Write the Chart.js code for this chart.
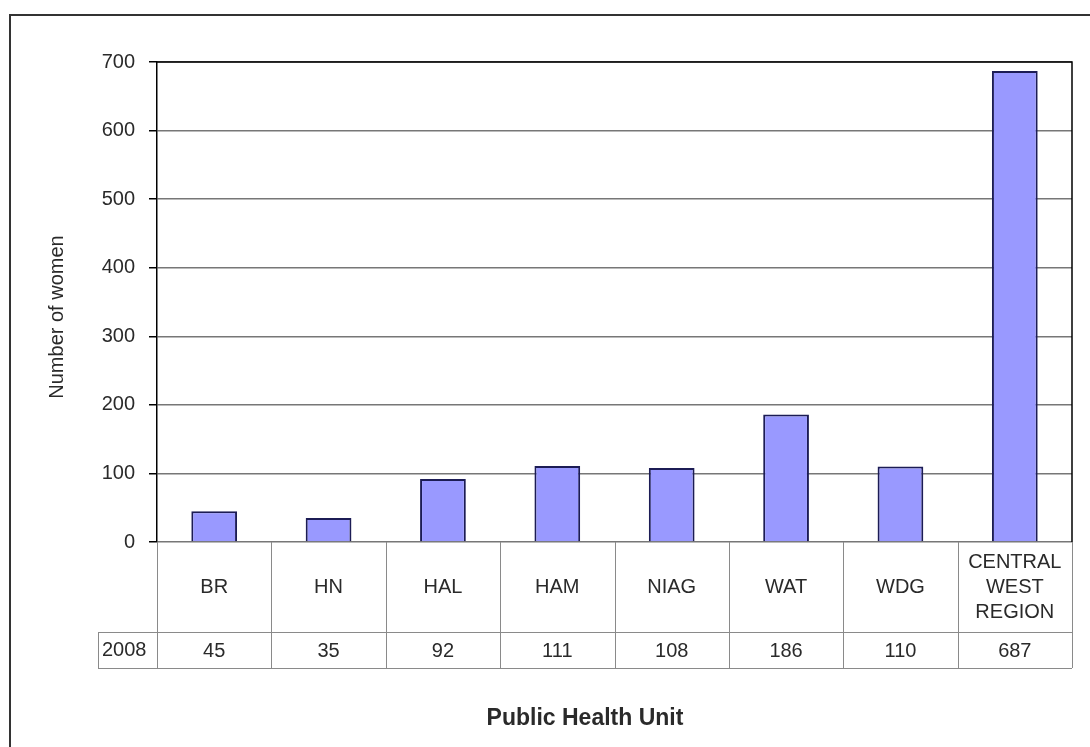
<!DOCTYPE html>
<html>
<head>
<meta charset="utf-8">
<title>Number of women by Public Health Unit, 2008</title>
<script src="https://cdn.jsdelivr.net/npm/chart.js@4/dist/chart.umd.min.js"></script>
<style>
    html, body { margin: 0; padding: 0; background: #fff; }
    #wrap { width: 1090px; height: 747px; }
</style>
</head>
<body>
<div id="wrap"><canvas id="womenChart" width="1090" height="747"></canvas></div>
<script>
// data
const units = ["BR", "HN", "HAL", "HAM", "NIAG", "WAT", "WDG", ["CENTRAL", "WEST", "REGION"]];
const seriesName = "2008";
const women2008 = [45, 35, 92, 111, 108, 186, 110, 687];
const yTicks = [0, 100, 200, 300, 400, 500, 600, 700];

const FONT = "'Liberation Sans', Arial, sans-serif";
const TEXT = "#2a2a2a";

// draws the outer frame, plot border, axis titles and the data table under the bars
const tablePlugin = {
    id: "dataTable",
    afterDraw(chart) {
        const ctx = chart.ctx;
        const area = chart.chartArea;
        const x = chart.scales.x;
        const step = x.getPixelForValue(1) - x.getPixelForValue(0);

        const rowTop = area.bottom;
        const rowMid = rowTop + 90;
        const rowBottom = rowMid + 36;
        const headLeft = area.left - 59;

        ctx.save();

        // outer chart border (only left and top show in the picture)
        ctx.strokeStyle = "#333";
        ctx.lineWidth = 2;
        ctx.beginPath();
        ctx.moveTo(10, 747);
        ctx.lineTo(10, 15);
        ctx.lineTo(1090, 15);
        ctx.stroke();

        // plot area: top and right edges
        ctx.strokeStyle = "#000";
        ctx.lineWidth = 1.5;
        ctx.beginPath();
        ctx.moveTo(area.left, area.top);
        ctx.lineTo(area.right, area.top);
        ctx.lineTo(area.right, area.bottom);
        ctx.stroke();

        // table grid
        ctx.strokeStyle = "#8a8a8a";
        ctx.lineWidth = 1;
        ctx.beginPath();
        for (let i = 0; i <= units.length; i++) {
            const px = Math.round(x.getPixelForValue(i) - step / 2) + 0.5;
            ctx.moveTo(px, rowTop);
            ctx.lineTo(px, rowBottom);
        }
        ctx.moveTo(headLeft, rowMid + 0.5);
        ctx.lineTo(area.right, rowMid + 0.5);
        ctx.moveTo(headLeft, rowBottom + 0.5);
        ctx.lineTo(area.right, rowBottom + 0.5);
        ctx.moveTo(headLeft + 0.5, rowMid);
        ctx.lineTo(headLeft + 0.5, rowBottom);
        ctx.stroke();

        // category names and values
        ctx.fillStyle = TEXT;
        ctx.font = "20px " + FONT;
        ctx.textAlign = "center";
        ctx.textBaseline = "middle";
        units.forEach((u, i) => {
            const cx = x.getPixelForValue(i);
            const lines = Array.isArray(u) ? u : [u];
            const lh = 25;
            const y0 = (rowTop + rowMid) / 2 - (lines.length - 1) * lh / 2;
            lines.forEach((t, j) => ctx.fillText(t, cx, y0 + j * lh));
            ctx.fillText(String(women2008[i]), cx, (rowMid + rowBottom) / 2 + 1);
        });
        ctx.textAlign = "left";
        ctx.fillText(seriesName, headLeft + 4, (rowMid + rowBottom) / 2);

        // x axis title
        ctx.font = "bold 23px " + FONT;
        ctx.textAlign = "center";
        ctx.fillText("Public Health Unit", (headLeft + area.right) / 2, 719);

        // y axis title
        ctx.font = "20px " + FONT;
        ctx.translate(57, 317);
        ctx.rotate(-Math.PI / 2);
        ctx.fillText("Number of women", 0, 0);

        ctx.restore();
    }
};

const ctx = document.getElementById("womenChart").getContext("2d");

new Chart(ctx, {
    type: "bar",
    data: {
        labels: units,
        datasets: [{
            label: seriesName,
            data: women2008,
            backgroundColor: "#9999ff",
            borderColor: "#1c1c55",
            borderWidth: 2,
            barPercentage: 0.4,
            categoryPercentage: 1.0
        }]
    },
    options: {
        responsive: false,
        animation: false,
        layout: {
            padding: { top: 62, right: 18, bottom: 205, left: 0 }
        },
        plugins: {
            legend: { display: false },
            tooltip: { enabled: false }
        },
        scales: {
            x: {
                ticks: { display: false },
                grid: { display: false, drawTicks: false },
                border: { display: false }
            },
            y: {
                min: yTicks[0],
                max: yTicks[yTicks.length - 1],
                afterFit(scale) { scale.width = 157; },
                afterBuildTicks(scale) { scale.ticks = yTicks.map(v => ({ value: v })); },
                ticks: {
                    color: TEXT,
                    font: { family: FONT, size: 20 },
                    padding: 14
                },
                grid: {
                    color: "#777",
                    lineWidth: 1.5,
                    tickLength: 8,
                    tickColor: "#000"
                },
                border: { color: "#000", width: 1.5 }
            }
        }
    },
    plugins: [tablePlugin]
});
</script>
</body>
</html>
